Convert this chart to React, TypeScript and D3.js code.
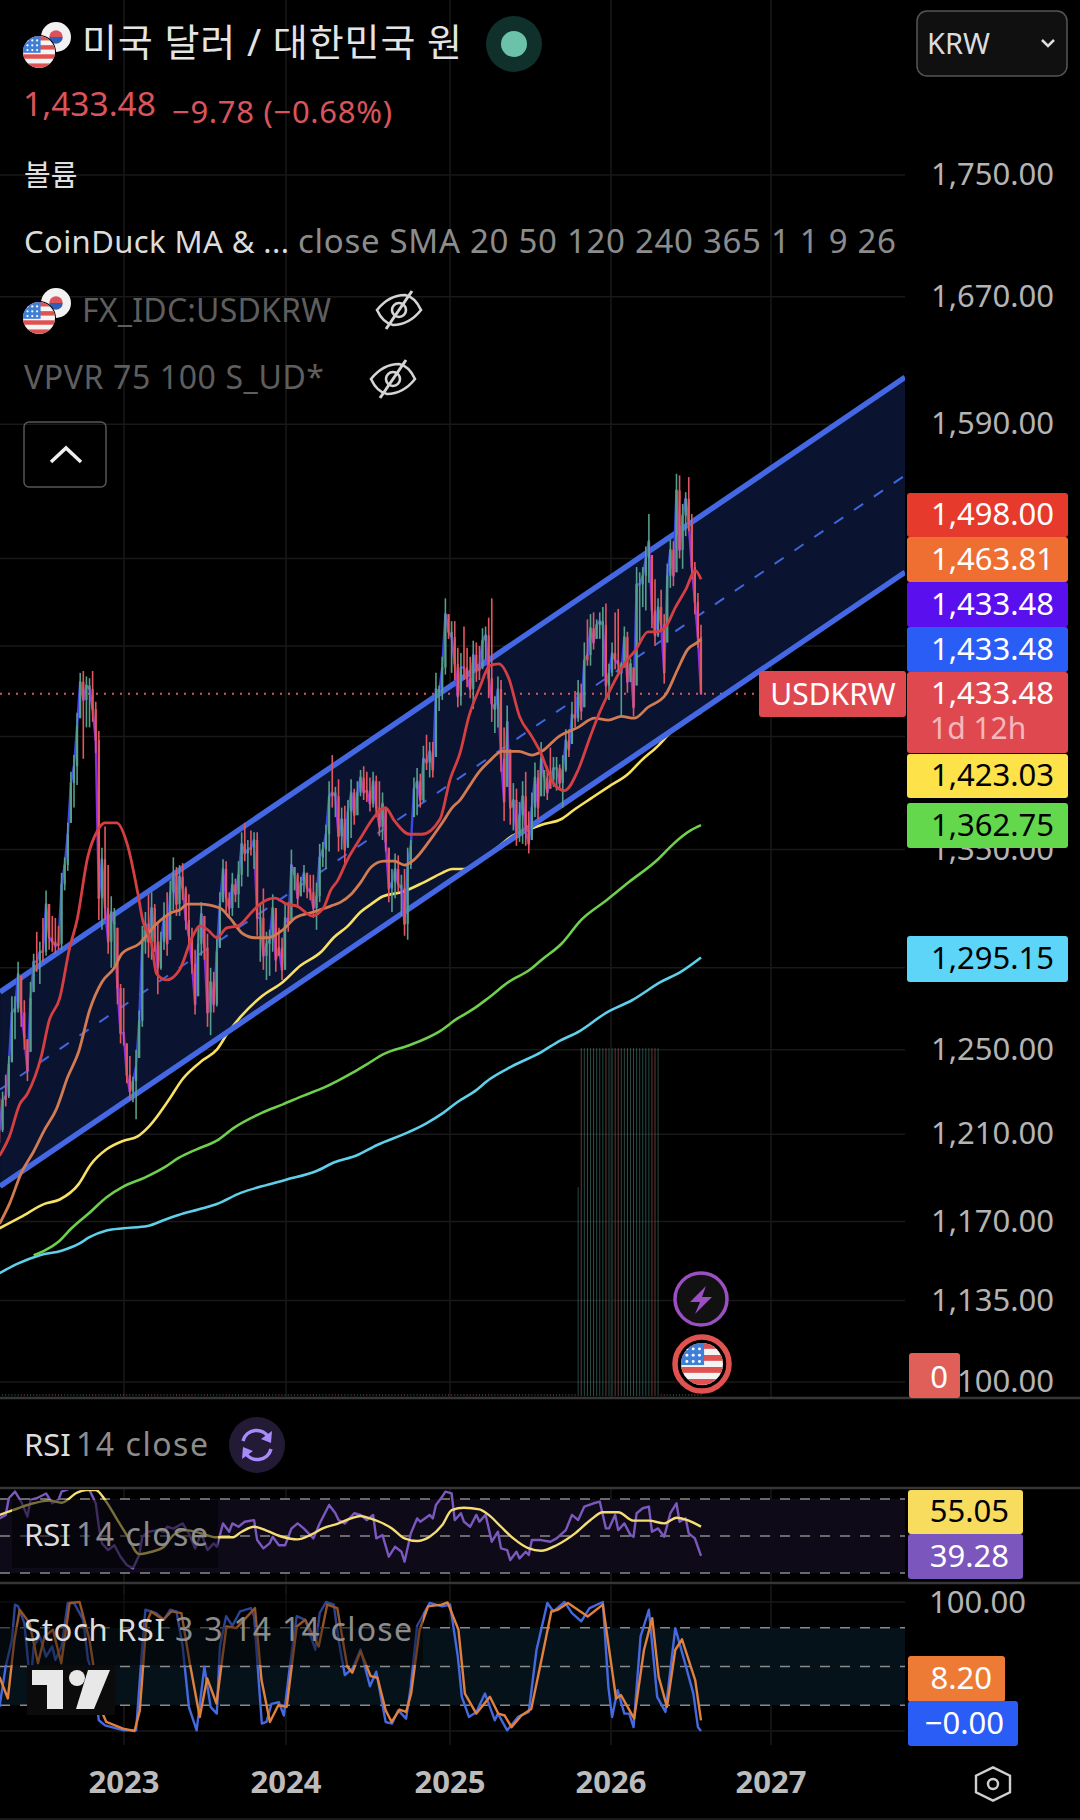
import React, { useEffect, useRef } from 'react';
import * as d3 from 'd3';

// Weekly USD/KRW candles. First one is around April 2022.
const firstWeekYear = 2022.2314;
const weeksPerYear = 52.18;

const candleHigh = [
  1227, 1230, 1238, 1247, 1276, 1276, 1293, 1286, 1274, 1255,
  1283, 1297, 1308, 1303, 1315, 1329, 1322, 1316, 1315, 1311,
  1338, 1346, 1364, 1391, 1400, 1423, 1445, 1446, 1443, 1442,
  1446, 1429, 1413, 1351, 1362, 1342, 1326, 1320, 1310, 1282,
  1280, 1253, 1247, 1237, 1250, 1269, 1311, 1318, 1327, 1328,
  1322, 1313, 1308, 1323, 1328, 1334, 1346, 1341, 1342, 1343,
  1331, 1327, 1310, 1299, 1310, 1323, 1316, 1307, 1290, 1288,
  1306, 1328, 1345, 1344, 1328, 1338, 1335, 1344, 1359, 1364,
  1355, 1360, 1359, 1359, 1322, 1330, 1308, 1309, 1327, 1320,
  1310, 1305, 1322, 1323, 1350, 1341, 1338, 1336, 1342, 1338,
  1337, 1337, 1333, 1353, 1354, 1363, 1386, 1400, 1383, 1387,
  1372, 1373, 1376, 1387, 1382, 1386, 1392, 1394, 1391, 1388,
  1391, 1389, 1386, 1380, 1372, 1351, 1340, 1348, 1347, 1337,
  1340, 1351, 1355, 1388, 1393, 1390, 1405, 1411, 1407, 1407,
  1445, 1438, 1454, 1487, 1478, 1474, 1474, 1459, 1456, 1471,
  1459, 1454, 1463, 1462, 1460, 1470, 1471, 1476, 1487, 1432,
  1443, 1441, 1415, 1427, 1403, 1385, 1382, 1375, 1386, 1391,
  1370, 1380, 1396, 1392, 1407, 1392, 1394, 1404, 1399, 1399,
  1395, 1400, 1414, 1414, 1429, 1435, 1441, 1439, 1462, 1475,
  1478, 1479, 1475, 1479, 1482, 1484, 1450, 1462, 1479, 1481,
  1451, 1471, 1468, 1453, 1448, 1505, 1502, 1505, 1517, 1536,
  1512, 1498, 1487, 1492, 1478, 1507, 1521, 1520, 1560, 1559,
  1542, 1549, 1558, 1536, 1508, 1490, 1472,
];
const candleLow = [
  1206, 1211, 1223, 1227, 1244, 1255, 1268, 1261, 1250, 1235,
  1249, 1278, 1288, 1282, 1293, 1296, 1299, 1298, 1297, 1299,
  1299, 1329, 1339, 1364, 1372, 1384, 1420, 1398, 1415, 1415,
  1418, 1401, 1314, 1309, 1314, 1297, 1290, 1290, 1272, 1253,
  1252, 1234, 1226, 1225, 1217, 1246, 1261, 1297, 1295, 1294,
  1298, 1277, 1289, 1299, 1296, 1304, 1319, 1316, 1316, 1324,
  1309, 1301, 1287, 1267, 1276, 1296, 1294, 1261, 1257, 1268,
  1271, 1300, 1323, 1318, 1316, 1316, 1323, 1320, 1331, 1344,
  1336, 1347, 1340, 1306, 1293, 1289, 1284, 1286, 1298, 1288,
  1296, 1284, 1289, 1308, 1314, 1329, 1320, 1326, 1328, 1325,
  1324, 1315, 1309, 1323, 1341, 1340, 1349, 1372, 1367, 1349,
  1350, 1343, 1351, 1356, 1363, 1368, 1378, 1376, 1375, 1370,
  1372, 1367, 1357, 1355, 1349, 1323, 1318, 1325, 1328, 1316,
  1306, 1304, 1340, 1367, 1368, 1372, 1375, 1392, 1388, 1388,
  1399, 1424, 1430, 1444, 1464, 1445, 1441, 1426, 1427, 1441,
  1437, 1431, 1425, 1440, 1441, 1447, 1452, 1431, 1418, 1412,
  1415, 1391, 1365, 1383, 1363, 1360, 1352, 1354, 1353, 1352,
  1348, 1355, 1367, 1366, 1378, 1378, 1376, 1382, 1383, 1381,
  1382, 1372, 1391, 1399, 1406, 1415, 1418, 1419, 1426, 1449,
  1449, 1458, 1464, 1464, 1443, 1430, 1430, 1443, 1447, 1445,
  1421, 1448, 1434, 1440, 1421, 1438, 1462, 1482, 1480, 1496,
  1470, 1460, 1465, 1468, 1439, 1462, 1493, 1494, 1502, 1510,
  1504, 1523, 1526, 1498, 1478, 1459, 1433,
];
const candleClose = [
  1212, 1226, 1228, 1243, 1268, 1270, 1287, 1268, 1256, 1240,
  1275, 1293, 1293, 1298, 1298, 1322, 1305, 1303, 1301, 1302,
  1332, 1342, 1358, 1385, 1394, 1416, 1440, 1430, 1438, 1436,
  1425, 1408, 1325, 1345, 1320, 1303, 1318, 1312, 1280, 1258,
  1258, 1238, 1230, 1235, 1242, 1264, 1303, 1312, 1303, 1320,
  1303, 1290, 1303, 1316, 1302, 1328, 1338, 1322, 1336, 1330,
  1314, 1306, 1292, 1272, 1302, 1317, 1300, 1268, 1283, 1272,
  1298, 1322, 1340, 1325, 1320, 1332, 1327, 1337, 1353, 1348,
  1350, 1351, 1355, 1315, 1315, 1296, 1302, 1304, 1320, 1294,
  1300, 1289, 1315, 1312, 1342, 1337, 1325, 1333, 1338, 1330,
  1328, 1320, 1326, 1346, 1350, 1358, 1378, 1380, 1378, 1357,
  1366, 1350, 1370, 1380, 1368, 1380, 1388, 1380, 1381, 1374,
  1386, 1372, 1362, 1374, 1354, 1330, 1333, 1340, 1332, 1330,
  1312, 1342, 1352, 1382, 1386, 1376, 1398, 1396, 1402, 1392,
  1436, 1434, 1448, 1478, 1468, 1465, 1450, 1432, 1448, 1448,
  1442, 1436, 1455, 1446, 1448, 1463, 1466, 1442, 1428, 1425,
  1436, 1398, 1375, 1418, 1372, 1376, 1358, 1368, 1378, 1360,
  1353, 1372, 1388, 1372, 1398, 1388, 1380, 1387, 1393, 1393,
  1385, 1392, 1408, 1403, 1422, 1420, 1434, 1424, 1452, 1455,
  1470, 1462, 1472, 1474, 1472, 1438, 1445, 1456, 1452, 1450,
  1445, 1465, 1440, 1450, 1426, 1495, 1495, 1500, 1510, 1520,
  1480, 1466, 1482, 1472, 1445, 1500, 1515, 1500, 1550, 1515,
  1535, 1545, 1530, 1505, 1485, 1465, 1433.48,
];
const candleDir = [
  'rgrggggrrr', 'ggrgrgrrrr', 'gggggggrgg', 'rrrgrrggrr', 'rrrgggggrg',
  'rrggrggrgr', 'rrrrggrrgr', 'gggrrgrggr', 'grgrgrgggr', 'rrgrggrggr',
  'rrgggggrgr', 'grggrggrrr', 'grrgrrggrg', 'rggggrgrgr', 'ggggrgrrgr',
  'rrgrrggrrg', 'grrgrgrggr', 'rggrggrrgg', 'rggrgrgrgr', 'grgggrggrr',
  'ggrgrggggg', 'rrgrrggrgr', 'ggrrrrr',
].join('');

// volume only exists for a short run of weeks, the rest sits at zero
const volumeFirstWeek = 186;
const volumeValues = [0.6, 1, 1, 1, 1, 1, 1, 1, 1, 1, 1, 1, 1, 1, 1, 1, 1, 1, 1, 1, 1, 1, 1, 1, 1, 1, 1];

const sma20Weeks = [0, 3.2, 6.5, 9, 13.5, 16, 19.4, 22.6, 25, 28.4, 31.6, 33.9, 37.7, 41.3, 44.5, 46.1, 49, 50.6, 53.9, 58, 62.3, 64.5, 67.1, 70, 73.2, 76.8, 81.3, 83.9, 88.7, 92.6, 95.8, 100.6, 104.2, 106.5, 108.7, 111.9, 116, 120.3, 123.9, 126.8, 131.6, 135.5, 141.3, 144.5, 147.7, 150.6, 153.9, 157.4, 160.3, 163.5, 167, 171, 174.2, 175.8, 178.4, 181.6, 186, 189.7, 192.9, 196.8, 201, 204.8, 208.7, 211.3, 214.5, 217.7, 221, 224.2, 226];
const sma20Values = [1200, 1209, 1224, 1229, 1247, 1264, 1275, 1300, 1314, 1346, 1360, 1364, 1364, 1352, 1328, 1314, 1302, 1287, 1284, 1289, 1306, 1311, 1309, 1305, 1310, 1311, 1318, 1322, 1325, 1322, 1321, 1316, 1320, 1329, 1334, 1345, 1356, 1367, 1372, 1365, 1358, 1358, 1366, 1387, 1401, 1421, 1436, 1449, 1450, 1442, 1421, 1410, 1400, 1393, 1384, 1381, 1392, 1409, 1423, 1437, 1450, 1458, 1468, 1468, 1471, 1482, 1492, 1503, 1498];

const sma50Weeks = [0, 3.2, 7, 11, 14.5, 18.4, 22, 25.5, 29, 33, 37, 39.4, 45, 50.6, 55.8, 58, 60.6, 64.5, 71, 74.2, 78.4, 82.3, 86.5, 91.3, 95.2, 101, 106.5, 109.7, 113, 116, 119.4, 123.5, 126.8, 130, 133.2, 137.7, 142, 145.2, 147.7, 150.6, 153.9, 157.4, 161.3, 166.8, 171, 174.2, 179.7, 186, 191.3, 195.8, 200, 204.2, 208.7, 214.5, 218.4, 221.6, 224.8, 226];
const sma50Values = [1169, 1178, 1192, 1202, 1212, 1222, 1237, 1249, 1269, 1283, 1290, 1297, 1302, 1312, 1318, 1319, 1322, 1322, 1320, 1315, 1307, 1305, 1305, 1309, 1315, 1318, 1321, 1323, 1327, 1333, 1341, 1344, 1344, 1342, 1345, 1354, 1364, 1372, 1376, 1383, 1391, 1397, 1402, 1402, 1400, 1402, 1410, 1415, 1420, 1419, 1421, 1420, 1426, 1433, 1447, 1458, 1462, 1463.81];

const sma120Weeks = [0, 6.8, 14.5, 19.4, 25.5, 29.4, 34.5, 40, 44.5, 48.4, 54.5, 59, 65.5, 70, 73.5, 77.7, 84.5, 91.3, 96.8, 103.5, 107.4, 112, 116, 119.4, 123.2, 129, 136, 142, 145.2, 149, 159.7, 164.5, 171, 174.2, 180.6, 184.8, 190.3, 195.8, 202.3, 206.5, 212, 216, 220.3, 224.2, 226];
const sma120Values = [1167, 1172, 1178, 1180, 1187, 1196, 1203, 1207, 1209, 1214, 1226, 1236, 1245, 1250, 1258, 1266, 1276, 1283, 1291, 1298, 1305, 1311, 1318, 1322, 1326, 1328, 1333, 1338, 1340, 1340, 1351, 1357, 1361, 1363, 1366, 1371, 1377, 1383, 1390, 1397, 1405, 1412, 1417, 1422, 1423.03];

const sma240Weeks = [11, 14.5, 19, 23.2, 29, 34.5, 40, 46.8, 53.5, 57.7, 63.5, 70, 75.5, 84.5, 91.3, 97.7, 104.5, 113.5, 118, 123.5, 131.3, 141.3, 146.8, 152.3, 156.8, 163.5, 170.3, 174.2, 180.6, 187, 195.2, 202.3, 212, 217, 222.6, 226];
const sma240Values = [1155, 1157, 1161, 1167, 1174, 1181, 1186, 1190, 1195, 1199, 1203, 1207, 1213, 1220, 1224, 1228, 1232, 1239, 1243, 1248, 1252, 1259, 1265, 1270, 1275, 1283, 1289, 1294, 1302, 1314, 1324, 1333, 1345, 1353, 1360, 1362.75];

const sma365Weeks = [0, 5.5, 13, 20, 25.5, 29, 34.5, 40, 47.7, 53.5, 57.7, 65.5, 70, 77.7, 84.5, 92.3, 102, 107.7, 114.5, 121.3, 131.3, 136.8, 142.3, 146.8, 152.3, 157.4, 164.5, 174.2, 179.7, 186.5, 195.2, 203.5, 212.9, 219.4, 226];
const sma365Values = [1147, 1151, 1155, 1157, 1160, 1163, 1166, 1167, 1168, 1171, 1173, 1176, 1178, 1183, 1186, 1189, 1193, 1197, 1200, 1205, 1211, 1215, 1220, 1225, 1230, 1236, 1242, 1249, 1254, 1259, 1268, 1274, 1283, 1288, 1295.15];

const rsiWeeks = [0, 2, 3, 5, 7, 9, 10, 12, 15, 17, 19, 20, 23, 26, 29, 31, 32, 33, 35, 37, 39, 41, 43, 45, 46, 48, 51, 53, 54, 56, 59, 61, 63, 65, 67, 69, 70, 72, 74, 75, 77, 79, 82, 83, 85, 87, 88, 90, 92, 94, 96, 98, 101, 103, 106, 108, 109, 111, 114, 116, 118, 120, 121, 123, 125, 127, 129, 130, 132, 134, 135, 138, 139, 140, 142, 143, 145, 146, 148, 149, 151, 153, 154, 156, 158, 160, 161, 163, 164, 166, 167, 169, 170, 171, 174, 177, 179, 182, 184, 186, 188, 191, 193, 195, 196, 198, 199, 201, 203, 204, 205, 207, 209, 210, 212, 214, 216, 218, 219, 221, 222, 224, 226];
const rsiValues = [59.5, 61.4, 70.4, 74, 68.6, 60.5, 69.5, 70.4, 73, 67.7, 69.5, 74, 75.8, 76.7, 74.9, 67.7, 55, 46, 42.4, 45, 38.8, 34.3, 32.5, 39.7, 49.6, 52.3, 53.2, 52.3, 55, 54, 56.8, 51.4, 43.3, 51.4, 42.4, 46, 44.2, 56.8, 52.3, 56.8, 55, 57.7, 58.6, 47.8, 43.3, 46, 49.6, 45, 45, 54, 56.8, 54, 48.7, 56.8, 66.8, 62.3, 58.6, 56.8, 62.3, 61.4, 58.6, 61.4, 48.7, 50.5, 38.8, 44.2, 41.5, 36.1, 51.4, 59.5, 57.7, 61.4, 59.5, 66.8, 71.3, 74, 73, 58.6, 62.3, 57.7, 55, 61.4, 57.7, 61.4, 46.9, 52.3, 43.3, 42.4, 37, 41.5, 37.9, 41.5, 39.7, 47.8, 47.8, 46.9, 48.7, 53.2, 61.4, 58.6, 65.9, 67.7, 68.6, 54.1, 54.1, 61.4, 53.2, 56.8, 50.5, 49.6, 62.3, 65, 65.9, 52.3, 54.1, 49.6, 62.3, 67.7, 57.7, 59.5, 51.4, 48.7, 39.28];

const rsiMaWeeks = [0, 3, 6, 11, 16, 20, 25, 28, 31, 34, 38, 41, 45, 49, 53, 56, 60, 65, 70, 75, 78, 82, 86, 91, 96, 100, 104, 109, 113, 116, 119, 122, 126, 130, 134, 138, 142, 145, 149, 154, 157, 161, 165, 170, 174, 179, 185, 190, 194, 199, 204, 209, 214, 218, 222, 226];
const rsiMaValues = [61.4, 63.2, 65, 67.7, 69.1, 68, 73.4, 74.9, 74.9, 69.5, 58.6, 50.5, 40.2, 41.5, 44.2, 50.5, 53.2, 51.4, 49.3, 49.3, 52.3, 55, 52.9, 49.6, 48.2, 50.5, 54.1, 56.8, 59.5, 60.8, 59.5, 57.7, 54.1, 48.7, 47.3, 49.6, 55.9, 64, 65.3, 64.4, 61.4, 55, 48.7, 43.3, 42, 45, 51.4, 58.6, 62.8, 62.8, 58.3, 58.3, 56.8, 59.9, 58.3, 55.05];

const stochKWeeks = [0, 2, 4, 5, 6, 8, 10, 11, 13, 15, 17, 18, 20, 22, 24, 27, 28.5, 30, 32, 34, 40, 44, 46, 47, 50.5, 53, 55, 57, 59, 61, 63.5, 66, 68, 70, 71, 73, 75, 77.5, 81, 82, 84.5, 86, 87.6, 90, 91.6, 93.5, 95.7, 98.4, 101.6, 103, 105, 107.5, 109, 111, 113.5, 116, 119, 121, 124, 126, 128, 130.5, 132, 134, 138, 142, 144.5, 147, 148.3, 150.6, 153, 155.8, 159, 160, 163, 166.5, 170, 172.5, 176, 178, 181.6, 184, 187, 189.7, 194, 195.8, 197, 198.8, 201, 202.6, 204, 206.3, 209, 211.7, 214.4, 217.6, 220.8, 223.5, 225, 226];
const stochKValues = [18.7, 49.9, 70.6, 98, 96.6, 83.6, 34.3, 65.5, 73.3, 57.7, 65.5, 55.1, 65.5, 99.2, 99.2, 86.2, 55.1, 44.7, 8.3, 4.4, 0.5, 0.5, 65.5, 94, 91.4, 86.2, 94, 92.7, 65.5, 18.7, 0.5, 49.9, 18.7, 13.5, 65.5, 89, 81.6, 92.7, 95.3, 88.8, 5.7, 7, 21, 22.3, 12, 49.9, 89, 86.2, 63, 91.4, 100, 98, 70.6, 43.4, 48.6, 63.3, 34.7, 46, 7, 5.7, 16, 9.6, 34.7, 81.6, 99.2, 96.6, 98, 57.7, 26.5, 10.9, 14.8, 29, 8.3, 13.5, 0.5, 10.9, 14.8, 62.8, 99.2, 92.7, 100, 91.4, 84.9, 95.3, 100, 34, 10.9, 31.7, 13.5, 13.5, 3, 73.3, 94, 26.5, 14.8, 79.7, 52.5, 29, 3, 0];

const stochDWeeks = [0, 2.7, 4.8, 6.5, 9.7, 12.4, 14.5, 17.2, 19.9, 22.6, 25.8, 29, 32.3, 34.4, 39.8, 43.5, 45.2, 47.3, 48.9, 52.7, 55.4, 58.6, 61.3, 64.5, 66.9, 69.9, 73.1, 76.3, 82.3, 84.4, 87.1, 89.8, 92.5, 95.7, 98.4, 102.7, 105.4, 108.6, 111.8, 113.4, 116, 119.2, 121.4, 124, 125.9, 128.4, 130.5, 132.1, 134.8, 137.5, 141.8, 143.7, 147.2, 149.3, 153, 157.4, 160.1, 162.2, 164.4, 167.6, 170.8, 174.1, 177.3, 179.4, 182.7, 185.9, 189.1, 194, 198.3, 199.9, 204.2, 207.4, 210.1, 212.2, 214.9, 217.6, 219.8, 224.1, 226];
const stochDValues = [42, 25.2, 70.6, 94, 83.6, 52.5, 73.3, 78.5, 52.5, 99.2, 100, 70.6, 18.7, 7, 1.8, 0, 16, 83.6, 92.7, 86.2, 92.7, 91.4, 52.5, 10.9, 40.8, 21.3, 81, 79.7, 95.3, 39.5, 7, 20, 18.7, 81, 86.2, 65.5, 98, 95.3, 49.9, 45.2, 61.8, 42.6, 41.3, 16, 7, 16.6, 14.8, 29, 78.5, 96.6, 98, 99.7, 78.5, 29, 13.5, 26.5, 13.5, 12, 3, 12, 17.1, 55.1, 92.7, 94, 99.2, 94, 88.8, 98, 25.2, 27.8, 9.6, 62.8, 87.5, 42, 18.7, 62.8, 71.1, 39.5, 8.2];

// trend channel, two anchors each
const channelYears = [2022.235, 2027.8375];
const channelUpper = [1278, 1619];
const channelLower = [1186, 1502];
const channelMid = [1231, 1559];

const lastPrice = 1433.48;
const yearTicks = [2023, 2024, 2025, 2026, 2027];
const priceTicks = [1750, 1670, 1590, 1510, 1460, 1410, 1350, 1290, 1250, 1210, 1170, 1135, 1100];
// the other grid levels have their labels sitting under the price tags
const priceLabels = [1750, 1670, 1590, 1350, 1250, 1210, 1170, 1135, 1100];

const FONT = '"Noto Sans","Noto Sans CJK KR",sans-serif';
const GRID = '#191919';
const UP = '#559e8c';
const DOWN = '#e2575f';
const PANE_RIGHT = 905;

const weekX = (x: d3.ScaleLinear<number, number>, w: number) => x(firstWeekYear + w / weeksPerYear);

const App: React.FC = () => {
  const svgRef = useRef<SVGSVGElement>(null);

  useEffect(() => {
    if (!svgRef.current) return;
    const svg = d3.select(svgRef.current);
    svg.selectAll('*').remove();

    const x = d3.scaleLinear().domain(yearTicks).range([124, 286, 450, 611, 771]);
    const y = d3.scaleLog().domain([1750, 1100]).range([175, 1382]);
    const yVol = d3.scaleLinear().domain([0, 1]).range([1396, 1048]);
    const yRsi = d3.scaleLinear().domain([70, 30]).range([1499, 1573]);
    const yStoch = d3.scaleLinear().domain([100, 0]).range([1602, 1731]);

    svg.append('rect').attr('width', 1080).attr('height', 1820).attr('fill', '#000');

    const defs = svg.append('defs');
    const clip = (id: string, cx: number, cy: number, w: number, h: number) =>
      defs.append('clipPath').attr('id', id).append('rect').attr('x', cx).attr('y', cy).attr('width', w).attr('height', h);
    clip('mainClip', 0, 0, PANE_RIGHT, 1398);
    clip('rsiClip', 0, 1490, PANE_RIGHT, 93);
    clip('stochClip', 0, 1585, PANE_RIGHT, 160);

    // grid
    const grid = svg.append('g').attr('stroke', GRID).attr('stroke-width', 1.5);
    grid.selectAll('.h').data(priceTicks).enter().append('line')
      .attr('x1', 0).attr('x2', PANE_RIGHT).attr('y1', d => y(d)).attr('y2', d => y(d));
    [[0, 1398], [1488, 1583], [1585, 1745]].forEach(([a, b]) => {
      grid.append('g').selectAll('line').data(yearTicks).enter().append('line')
        .attr('x1', d => x(d)).attr('x2', d => x(d)).attr('y1', a).attr('y2', b);
    });

    const main = svg.append('g').attr('clip-path', 'url(#mainClip)');

    // channel fill
    const channelArea = d3.area<number>()
      .x(d => x(channelYears[d]))
      .y0(d => y(channelLower[d]))
      .y1(d => y(channelUpper[d]));
    main.append('path').attr('d', channelArea([0, 1]) || '').attr('fill', '#0a1430');

    // last price dotted line
    main.append('line')
      .attr('x1', 0).attr('x2', 760).attr('y1', y(lastPrice)).attr('y2', y(lastPrice))
      .attr('stroke', '#d9555b').attr('stroke-width', 2).attr('stroke-dasharray', '2 6');

    // volume
    const vols = main.append('g');
    candleHigh.forEach((_, i) => {
      const v = volumeValues[i - volumeFirstWeek] ?? 0;
      const cx = weekX(x, i);
      vols.append('line')
        .attr('x1', cx).attr('x2', cx)
        .attr('y1', v ? yVol(v) : yVol(0) - 2).attr('y2', yVol(0))
        .attr('stroke', candleDir[i] === 'g' ? '#3f7d70' : '#a8605c')
        .attr('stroke-width', 1)
        .attr('opacity', v ? 0.6 : 0.5);
    });

    const maLine = (weeks: number[], values: number[], color: string, width: number) => {
      const line = d3.line<number>()
        .x((_, i) => weekX(x, weeks[i]))
        .y(d => y(d))
        .curve(d3.curveMonotoneX);
      main.append('path').attr('d', line(values) || '').attr('fill', 'none')
        .attr('stroke', color).attr('stroke-width', width).attr('stroke-linejoin', 'round');
    };

    maLine(sma365Weeks, sma365Values, '#5fd0ea', 2.6);
    maLine(sma240Weeks, sma240Values, '#6fd04e', 2.6);
    maLine(sma120Weeks, sma120Values, '#f7e063', 2.6);

    // channel lines
    const chan = (vals: number[]) => d3.line<number>().x((_, i) => x(channelYears[i])).y(d => y(d))(vals) || '';
    main.append('path').attr('d', chan(channelUpper)).attr('fill', 'none').attr('stroke', '#4468e4').attr('stroke-width', 5.5);
    main.append('path').attr('d', chan(channelLower)).attr('fill', 'none').attr('stroke', '#4468e4').attr('stroke-width', 5.5);
    main.append('path').attr('d', chan(channelMid)).attr('fill', 'none').attr('stroke', '#4065dc').attr('stroke-width', 2).attr('stroke-dasharray', '11 13');

    // SMA 1 overlays, blue when rising and purple when falling
    const closes = main.append('g').attr('stroke-width', 2.4).attr('stroke-linecap', 'round');
    candleClose.forEach((c, i) => {
      if (i === 0) return;
      closes.append('line')
        .attr('x1', weekX(x, i - 1)).attr('y1', y(candleClose[i - 1]))
        .attr('x2', weekX(x, i)).attr('y2', y(c))
        .attr('stroke', c >= candleClose[i - 1] ? '#3d47e6' : '#8a2ee0');
    });

    // candles
    const candles = main.append('g');
    candleHigh.forEach((hi, i) => {
      const cx = weekX(x, i);
      const color = candleDir[i] === 'g' ? UP : DOWN;
      const open = i === 0 ? candleClose[0] : candleClose[i - 1];
      const top = Math.min(hi, Math.max(open, candleClose[i]));
      const bottom = Math.max(candleLow[i], Math.min(open, candleClose[i]));
      candles.append('line').attr('x1', cx).attr('x2', cx).attr('y1', y(hi)).attr('y2', y(candleLow[i]))
        .attr('stroke', color).attr('stroke-width', 1.6);
      candles.append('line').attr('x1', cx).attr('x2', cx).attr('y1', y(top)).attr('y2', y(bottom))
        .attr('stroke', color).attr('stroke-width', 2.2);
    });

    maLine(sma50Weeks, sma50Values, '#d27a52', 2.8);
    maLine(sma20Weeks, sma20Values, '#d63f42', 2.8);

    // event icons
    const bolt = svg.append('g').attr('transform', 'translate(701,1299)');
    bolt.append('circle').attr('r', 26).attr('fill', '#111').attr('stroke', '#9a4fc2').attr('stroke-width', 3.5);
    bolt.append('path').attr('d', 'M5,-13 L-11,3 L-1,3 L-6,15 L11,-2 L1,-2 Z').attr('fill', '#9a4fc2');

    const flagUS = (g: d3.Selection<SVGGElement, unknown, null, undefined>, id: string, r: number) => {
      defs.append('clipPath').attr('id', id).append('circle').attr('r', r);
      const f = g.append('g').attr('clip-path', `url(#${id})`);
      f.append('rect').attr('x', -r).attr('y', -r).attr('width', 2 * r).attr('height', 2 * r).attr('fill', '#f4f4f4');
      d3.range(0, 4).forEach(k => {
        f.append('rect').attr('x', -r).attr('y', -r + (2 * r * k) / 3.5).attr('width', 2 * r).attr('height', r / 3.6).attr('fill', '#e0524f');
      });
      f.append('rect').attr('x', -r).attr('y', -r).attr('width', r * 1.1).attr('height', r * 1.05).attr('fill', '#3f7fd6');
      d3.range(3).forEach(a => d3.range(3).forEach(b => {
        f.append('circle').attr('cx', -r * 0.72 + b * r * 0.3).attr('cy', -r * 0.72 + a * r * 0.3).attr('r', r * 0.07).attr('fill', '#fff');
      }));
    };
    const flagKR = (g: d3.Selection<SVGGElement, unknown, null, undefined>, r: number) => {
      g.append('circle').attr('r', r).attr('fill', '#f2f2f2');
      g.append('path').attr('d', `M${-r * 0.45},0 A${r * 0.45},${r * 0.45} 0 0 1 ${r * 0.45},0 Z`).attr('fill', '#d9535a');
      g.append('path').attr('d', `M${-r * 0.45},0 A${r * 0.45},${r * 0.45} 0 0 0 ${r * 0.45},0 Z`).attr('fill', '#2f5fb5');
    };

    const usEvent = svg.append('g').attr('transform', 'translate(702,1364)');
    usEvent.append('circle').attr('r', 27).attr('fill', '#000').attr('stroke', '#e0524f').attr('stroke-width', 5.5);
    flagUS(usEvent, 'usEv', 21);

    // pane separators
    [1398, 1488, 1583].forEach(sy => {
      svg.append('line').attr('x1', 0).attr('x2', 1080).attr('y1', sy).attr('y2', sy).attr('stroke', '#363636').attr('stroke-width', 2.5);
    });
    svg.append('line').attr('x1', 0).attr('x2', 1080).attr('y1', 1819).attr('y2', 1819).attr('stroke', '#222').attr('stroke-width', 1.5);

    const text = (tx: number, ty: number, s: string, color: string, size = 31, anchor = 'start', weight = 400, fitWidth?: number) => {
      const t = svg.append('text').attr('x', tx).attr('y', ty).attr('fill', color)
        .attr('font-family', FONT).attr('font-size', size).attr('font-weight', weight)
        .attr('text-anchor', anchor).text(s);
      if (fitWidth) t.attr('textLength', fitWidth).attr('lengthAdjust', 'spacing');
      return t;
    };

    // price axis labels
    priceLabels.forEach(p => {
      text(1054, y(p) + 10, d3.format(',.2f')(p), '#b4b4b4', 31, 'end');
    });

    // RSI pane
    const rsi = svg.append('g').attr('clip-path', 'url(#rsiClip)');
    rsi.append('rect').attr('x', 0).attr('y', yRsi(70)).attr('width', PANE_RIGHT).attr('height', yRsi(30) - yRsi(70)).attr('fill', '#0f0a18');
    [70, 50, 30].forEach(v => {
      rsi.append('line').attr('x1', 0).attr('x2', PANE_RIGHT).attr('y1', yRsi(v)).attr('y2', yRsi(v))
        .attr('stroke', '#8a8a8a').attr('stroke-width', 1.6).attr('stroke-dasharray', '10 10');
    });
    const rsiPath = (weeks: number[], vals: number[], color: string, curve: d3.CurveFactory) =>
      rsi.append('path')
        .attr('d', d3.line<number>().x((_, i) => weekX(x, weeks[i])).y(d => yRsi(d)).curve(curve)(vals) || '')
        .attr('fill', 'none').attr('stroke', color).attr('stroke-width', 2.4).attr('stroke-linejoin', 'round');
    rsiPath(rsiWeeks, rsiValues, '#7a58bd', d3.curveLinear);
    rsiPath(rsiMaWeeks, rsiMaValues, '#f4dd73', d3.curveMonotoneX);
    svg.append('rect').attr('x', 12).attr('y', 1500).attr('width', 206).attr('height', 68).attr('fill', '#000').attr('opacity', 0.5);

    // Stoch RSI pane
    const stoch = svg.append('g').attr('clip-path', 'url(#stochClip)');
    stoch.append('rect').attr('x', 0).attr('y', yStoch(80)).attr('width', PANE_RIGHT).attr('height', yStoch(20) - yStoch(80)).attr('fill', '#06121a');
    [100, 0].forEach(v => {
      stoch.append('line').attr('x1', 0).attr('x2', PANE_RIGHT).attr('y1', yStoch(v)).attr('y2', yStoch(v)).attr('stroke', GRID).attr('stroke-width', 1.5);
    });
    [80, 50, 20].forEach(v => {
      stoch.append('line').attr('x1', 0).attr('x2', PANE_RIGHT).attr('y1', yStoch(v)).attr('y2', yStoch(v))
        .attr('stroke', '#8a8a8a').attr('stroke-width', 1.6).attr('stroke-dasharray', '10 10');
    });
    const stochPath = (weeks: number[], vals: number[], color: string) =>
      stoch.append('path')
        .attr('d', d3.line<number>().x((_, i) => weekX(x, weeks[i])).y(d => yStoch(d))(vals) || '')
        .attr('fill', 'none').attr('stroke', color).attr('stroke-width', 2.4).attr('stroke-linejoin', 'round');
    stochPath(stochKWeeks, stochKValues, '#4469e0');
    stochPath(stochDWeeks, stochDValues, '#e0813e');
    svg.append('rect').attr('x', 0).attr('y', 1627).attr('width', 423).attr('height', 38).attr('fill', '#000').attr('opacity', 0.5);
    svg.append('rect').attr('x', 0).attr('y', 1594).attr('width', 423).attr('height', 33).attr('fill', '#000').attr('opacity', 0.35);

    // tradingview mark
    svg.append('rect').attr('x', 27).attr('y', 1665).attr('width', 88).attr('height', 50).attr('fill', '#0b0b0b');
    const tv = svg.append('g').attr('fill', '#e8e8e8');
    tv.append('path').attr('d', 'M32,1670 H63 V1709 H47 V1685 H32 Z');
    tv.append('circle').attr('cx', 77).attr('cy', 1678).attr('r', 8);
    tv.append('path').attr('d', 'M88,1670 H110 L94,1709 H76 Z');

    // price tags
    const tag = (tx: number, ty: number, w: number, h: number, fill: string, label: string, color: string, rx: number) => {
      svg.append('rect').attr('x', tx).attr('y', ty).attr('width', w).attr('height', h).attr('rx', 3).attr('fill', fill);
      text(rx, ty + h / 2 + 10, label, color, 31, 'end');
    };
    tag(907, 493, 161, 44, '#e63a2c', '1,498.00', '#fff', 1054);
    tag(907, 537, 161, 45, '#ee6f31', '1,463.81', '#fff', 1054);
    tag(907, 582, 161, 45, '#5a0fee', '1,433.48', '#fff', 1054);
    tag(907, 627, 161, 45, '#2a5cf6', '1,433.48', '#fff', 1054);
    svg.append('rect').attr('x', 907).attr('y', 672).attr('width', 161).attr('height', 81).attr('rx', 3).attr('fill', '#e0484f');
    text(1054, 704, '1,433.48', '#fff', 31, 'end');
    text(930, 739, '1d 12h', '#f4b8ba', 30);
    svg.append('rect').attr('x', 759).attr('y', 671).attr('width', 147).attr('height', 46).attr('rx', 3).attr('fill', '#e0484f');
    text(833, 705, 'USDKRW', '#fff', 30, 'middle');
    tag(907, 754, 161, 44, '#fde24a', '1,423.03', '#000', 1054);
    tag(907, 803, 161, 45, '#63d84c', '1,362.75', '#000', 1054);
    tag(907, 936, 161, 46, '#5cd5f8', '1,295.15', '#000', 1054);
    svg.append('rect').attr('x', 909).attr('y', 1353).attr('width', 51).attr('height', 45).attr('rx', 3).attr('fill', '#e05f58');
    text(939, 1388, '0', '#fff', 31, 'middle');

    tag(908, 1490, 115, 44, '#f7dc5e', '55.05', '#000', 1009);
    tag(908, 1534, 115, 45, '#7a56bd', '39.28', '#fff', 1009);
    text(1026, 1613, '100.00', '#b4b4b4', 31, 'end');
    tag(908, 1656, 97, 46, '#ee7b35', '8.20', '#fff', 992);
    tag(908, 1701, 110, 45, '#2a5cf6', '−0.00', '#fff', 1004);

    // header legend
    const usKr = (cx: number, cy: number, id: string) => {
      const kr = svg.append('g').attr('transform', `translate(${cx + 17},${cy - 15})`);
      flagKR(kr, 15);
      const us = svg.append('g').attr('transform', `translate(${cx},${cy})`);
      us.append('circle').attr('r', 17).attr('fill', '#000');
      flagUS(us, id, 16);
    };
    usKr(39, 52, 'us1');
    text(82, 56, '미국 달러 / 대한민국 원', '#e4e4e4', 38, 'start', 400, 380);
    svg.append('circle').attr('cx', 514).attr('cy', 44).attr('r', 28).attr('fill', '#10302b');
    svg.append('circle').attr('cx', 514).attr('cy', 44).attr('r', 13).attr('fill', '#6cc2a8');

    text(23, 116, '1,433.48', '#d9555b', 33.5);
    text(172, 123, '−9.78 (−0.68%)', '#d9555b', 31, 'start', 400, 220);
    text(24, 186, '볼륨', '#e0e0e0', 29);
    text(24, 253, 'CoinDuck MA & ...', '#dcdcdc', 31, 'start', 400, 265);
    text(298, 253, 'close SMA 20 50 120 240 365 1 1 9 26', '#8c8c8c', 33, 'start', 400, 598);
    usKr(39, 318, 'us2');
    text(82, 322, 'FX_IDC:USDKRW', '#5e5e5e', 32, 'start', 400, 249);
    text(24, 389, 'VPVR 75 100 S_UD*', '#5e5e5e', 32, 'start', 400, 300);

    const eyeOff = (cx: number, cy: number) => {
      const g = svg.append('g').attr('transform', `translate(${cx},${cy})`).attr('fill', 'none').attr('stroke', '#d4d4d4').attr('stroke-width', 2.6);
      g.append('path').attr('d', 'M-22,0 Q-10,-15 6,-15 Q16,-13 22,0 Q10,15 -6,15 Q-16,13 -22,0 Z');
      g.append('circle').attr('r', 7);
      g.append('line').attr('x1', -13).attr('y1', 19).attr('x2', 13).attr('y2', -19).attr('stroke-width', 3);
    };
    eyeOff(399, 310);
    eyeOff(393, 379);

    svg.append('rect').attr('x', 24).attr('y', 422).attr('width', 82).attr('height', 65).attr('rx', 5).attr('fill', 'none').attr('stroke', '#555').attr('stroke-width', 1.5);
    svg.append('path').attr('d', 'M51,462 L66,448 L81,462').attr('fill', 'none').attr('stroke', '#eee').attr('stroke-width', 3.5);

    svg.append('rect').attr('x', 917).attr('y', 11).attr('width', 150).attr('height', 65).attr('rx', 10).attr('fill', '#101010').attr('stroke', '#555').attr('stroke-width', 1.5);
    text(927, 54, 'KRW', '#dcdcdc', 29);
    svg.append('path').attr('d', 'M1042,40 L1048,46 L1054,40').attr('fill', 'none').attr('stroke', '#ddd').attr('stroke-width', 2.5);

    // pane legends
    text(24, 1456, 'RSI', '#dcdcdc', 31);
    text(76, 1456, '14 close', '#8c8c8c', 32, 'start', 400, 132);
    const cycle = svg.append('g').attr('transform', 'translate(257,1445)');
    cycle.append('circle').attr('r', 28).attr('fill', '#231a35');
    cycle.append('path').attr('d', 'M-14,-4 A14,14 0 0 1 12,-7 M14,4 A14,14 0 0 1 -12,7').attr('fill', 'none').attr('stroke', '#a78bfa').attr('stroke-width', 3.5);
    cycle.append('path').attr('d', 'M15,-14 L14,-2 L4,-6 Z M-15,14 L-14,2 L-4,6 Z').attr('fill', '#a78bfa');

    text(24, 1546, 'RSI', '#dcdcdc', 31);
    text(76, 1546, '14 close', '#8c8c8c', 32, 'start', 400, 132);
    text(24, 1641, 'Stoch RSI', '#dcdcdc', 31, 'start', 400, 141);
    text(175, 1641, '3 3 14 14 close', '#8c8c8c', 32, 'start', 400, 237);

    // time axis
    yearTicks.forEach(yr => {
      text(x(yr), 1793, String(yr), '#bcbcbc', 31, 'middle', 700);
    });

    const gear = svg.append('g').attr('transform', 'translate(993,1784)').attr('fill', 'none').attr('stroke', '#cfcfcf').attr('stroke-width', 2.4);
    gear.append('path').attr('d', 'M0,-17 L17,-8.5 L17,8.5 L0,17 L-17,8.5 L-17,-8.5 Z').attr('transform', 'scale(1,0.98)');
    gear.append('circle').attr('r', 5);
  }, []);

  return <svg ref={svgRef} width={1080} height={1820} style={{ position: 'fixed', top: 0, left: 0, display: 'block' }} />;
};

export default App;
